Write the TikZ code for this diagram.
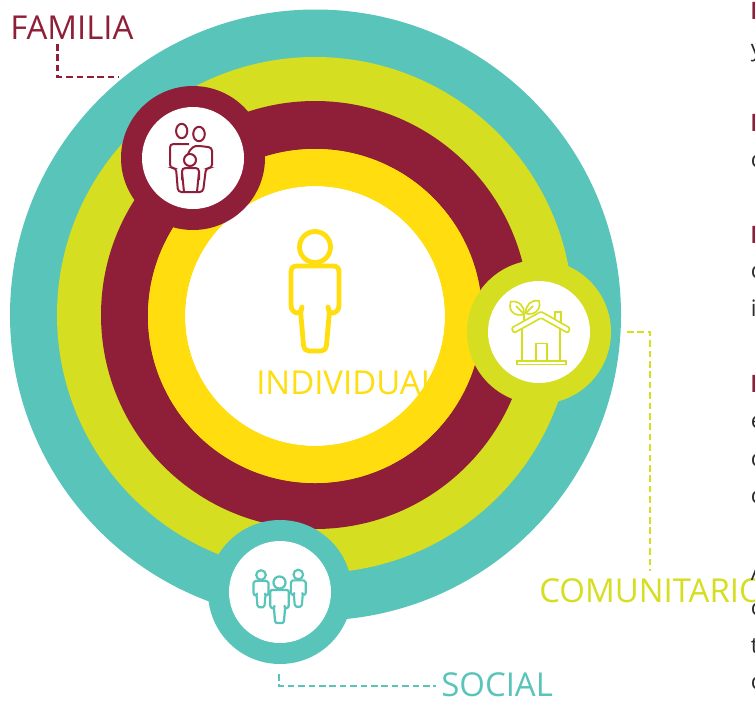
\documentclass[tikz,border=0pt]{standalone}
\usepackage{fontspec}
\setmainfont{Open Sans}
\usetikzlibrary{positioning}
\definecolor{tealc}{HTML}{58C4BA}
\definecolor{limec}{HTML}{D5DE20}
\definecolor{maroonc}{HTML}{8F1F38}
\definecolor{yellowc}{HTML}{FFDD0F}
\definecolor{bodyc}{HTML}{2B2B2B}
\tikzset{
  bullet/.style={circle, fill=#1, minimum size=108pt, inner sep=0pt},
  hole/.style={circle, fill=white, minimum size=76.5pt, inner sep=0pt},
  ringlabel/.style={font=\fontsize{24.7}{25}\selectfont, text=#1, inner sep=0pt, anchor=base west},
  leader/.style={#1, line width=1.9pt, dash pattern=on 5pt off 2.8pt},
  headtext/.style={font=\fontsize{18}{18}\selectfont\bfseries, text=maroonc, inner sep=0pt, anchor=base west},
  bodytext/.style={font=\fontsize{17}{17}\selectfont, text=bodyc, inner sep=0pt, anchor=base west},
  person/.pic={
    \draw (0,0) circle [radius=15.5];
    \draw[fill=white, line join=round] (-24,25) .. controls (-24,21) and (-22,19) .. (-18,19) -- (18,19)
      .. controls (22,19) and (24,21) .. (24,25) -- (24,58) .. controls (24,63) and (21,66) .. (17,66)
      .. controls (15,66) and (14,64) .. (13,60) -- (14.3,66) -- (11.5,98)
      .. controls (11,102) and (9,104) .. (6,104) -- (-6,104)
      .. controls (-9,104) and (-11,102) .. (-11.5,98) -- (-14.3,66) -- (-13,60)
      .. controls (-14,64) and (-15,66) .. (-17,66) .. controls (-21,66) and (-24,63) .. (-24,58) -- cycle;
  }
}
\begin{document}
\begin{tikzpicture}[x=0.75pt, y=-0.75pt]
  \useasboundingbox (0,0) rectangle (755,700);

  % big discs
  \fill[tealc] (315.5,315) circle [radius=305.5];
  \fill[limec] (315,315) circle [radius=258];
  \fill[maroonc] (315,315) circle [radius=214];
  \fill[yellowc] (315,316) circle [radius=167];
  \fill[white] (315,316) circle [radius=130];
  \node[ringlabel=yellowc] (individual) at (256,394) {INDIVIDUAL};
  \fill[yellowc, even odd rule] (315,316) circle [radius=167] (315,316) circle [radius=130];
  \pic[yellowc, line width=3.6pt] at (315,247) {person};

  % small discs
  \node[bullet=maroonc] (famdisc) at (193,158) {};
  \node[hole] (famhole) at (193,158) {};
  \node[bullet=limec] (comdisc) at (539,332) {};
  \node[hole] (comhole) at (539,332) {};
  \node[bullet=tealc] (socdisc) at (280,592) {};
  \node[hole] (sochole) at (280,592) {};

  % family
  \begin{scope}[maroonc, line width=1.5pt, rounded corners=2.5pt]
    \draw (181.7,131) ellipse [x radius=5.6, y radius=7.2];
    \draw (199,134) ellipse [x radius=5.8, y radius=7.2];
    \draw (189,144) -- (170,144) -- (170,168) -- (176,168) -- (178,192) -- (190,192);
    \draw (188,154) .. controls (191,147) and (195,146) .. (200,146) -- (212,147.5)
      -- (212,168) -- (206,168) -- (203,192) -- (190,192);
    \draw (190,160) circle [radius=6];
    \draw (190,168) -- (182,168) -- (182,180) (182,172) -- (184,192)
      (190,168) -- (199,168) -- (199,180) (199,172) -- (197,192);
  \end{scope}

  % house
  \begin{scope}[limec, line width=1.2pt]
    \draw (516.7,360.7) rectangle (565.7,364.3);
    \draw (521.7,328) -- (521.7,360.7) (560,328) -- (560,360.7);
    \draw (535.7,360.7) -- (535.7,343.3) -- (546.7,343.3) -- (546.7,360.7);
    \draw (555,319) -- (555,311.7) -- (560.7,311.7) -- (560.7,322);
    \draw[fill=white, rounded corners=1pt] (541,311.5) -- (570,328) -- (568,333) -- (541,318)
      -- (514,333) -- (511.5,328) -- cycle;
    \draw (510.7,301.7) .. controls (507,313) and (518,317) .. (524,314)
      .. controls (525,307) and (519,300) .. (510.7,301.7) -- cycle;
    \draw (539,301) .. controls (531,299) and (525,306) .. (525.7,313.3)
      .. controls (532,316) and (542,311) .. (539,301) -- cycle;
    \draw (524,320) -- (524,314);
    \draw (516,306) -- (524,314) (533,306) -- (525.7,313.3);
  \end{scope}

  % social
  \pic[tealc, line width=1.6pt, scale=0.31] at (261,575) {person};
  \pic[tealc, line width=1.6pt, scale=0.31] at (298.3,574.5) {person};
  \pic[tealc, line width=1.7pt, scale=0.39] at (279.5,582.5) {person};

  % labels and leaders
  \node[ringlabel=maroonc] (familia) at (10,39) {FAMILIA};
  \node[ringlabel=limec] (comunitario) at (539,602) {COMUNITARIO};
  \node[ringlabel=tealc] (social) at (441,696.5) {SOCIAL};
  \coordinate (famend) at (119,77);
  \coordinate (famtop) at (57.5,44);
  \coordinate (comstart) at (627,332);
  \coordinate (combot) at (650,571);
  \coordinate (socstart) at (279,674);
  \coordinate (socend) at (436,686);
  \draw[leader=maroonc] (famtop) |- (famend);
  \draw[leader=limec] (comstart) -| (combot);
  \draw[leader=tealc] (socstart) |- (socend);

  % cut off text at the right edge
  \node[headtext] (h1) at (750,19) {N};
  \node[bodytext] (b1) at (750.5,56) {y};
  \node[headtext] (h2) at (750,131.5) {N};
  \node[bodytext] (b2) at (750.5,167) {c};
  \node[headtext] (h3) at (750,243.5) {N};
  \node[bodytext] (b3) at (750.5,278) {c};
  \node[bodytext] (b4) at (750.5,316.5) {i};
  \node[headtext] (h4) at (750,392) {N};
  \node[bodytext] (b5) at (750.5,428) {e};
  \node[bodytext] (b6) at (750.5,466) {c};
  \node[bodytext] (b7) at (750.5,503) {c};
  \node[bodytext] (b8) at (750.5,580) {A};
  \node[bodytext] (b9) at (750.5,615) {c};
  \node[bodytext] (b10) at (750.5,653) {t};
  \node[bodytext] (b11) at (750.5,689) {c};
\end{tikzpicture}
\end{document}
